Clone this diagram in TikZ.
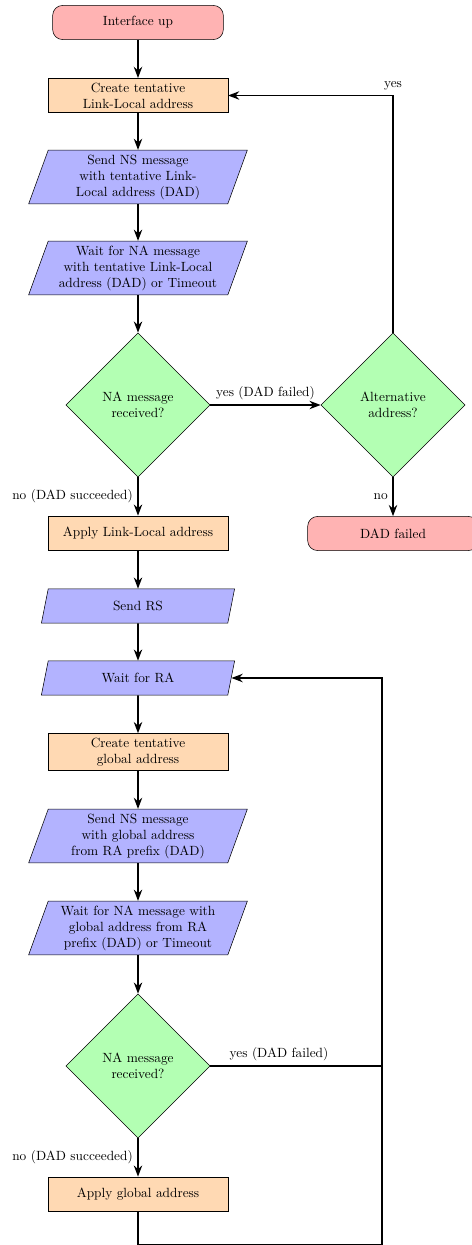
\documentclass[tikz,border=0pt]{standalone}
\usepackage{xcolor}
\definecolor{flow-red}{HTML}{FFB3B3}
\definecolor{flow-orange}{HTML}{FFD9B3}
\definecolor{flow-blue}{HTML}{B3B3FF}
\definecolor{flow-green}{HTML}{B3FFB3}
\usepackage{tikz}
\usetikzlibrary{shapes.geometric, arrows.meta}

\tikzset{
    startstop/.style={rectangle, rounded corners=7.5pt, draw, fill=flow-red,
        minimum width=4.5cm, minimum height=0.9cm, align=center},
    process/.style={rectangle, draw, fill=flow-orange, text width=4.5cm,
        minimum height=0.9cm, align=center},
    io/.style={trapezium, trapezium left angle=70, trapezium right angle=110,
        trapezium stretches=true, draw, fill=flow-blue, text width=4.5cm,
        minimum height=0.9cm, align=center},
    decision/.style={diamond, draw, fill=flow-green, minimum size=3.8cm,
        inner sep=0pt, align=center},
    arrow/.style={very thick, -{Stealth}},
    link/.style={very thick},
}

\begin{document}
\begin{tikzpicture}[x=0.75pt, y=-0.75pt]

    % Frame
    \useasboundingbox (0, 0) rectangle (471, 1245);

    % Link-Local address
    \node[startstop] (up) at (138, 22.5) {Interface up};
    \node[process] (createLL) at (138, 95.5) {Create tentative\\Link-Local address};
    \node[io] (sendNS) at (138, 177) {Send NS message\\with tentative Link-\\Local address (DAD)};
    \node[io] (waitNA) at (138, 268) {Wait for NA message\\with tentative Link-Local\\address (DAD) or Timeout};
    \node[decision] (checkNA) at (138, 405) {NA message\\received?};
    \node[decision] (checkAlt) at (393, 405) {Alternative\\address?};
    \node[process] (applyLL) at (138, 533) {Apply Link-Local address};
    \node[startstop] (failed) at (393, 533.5) {DAD failed};

    % Global address
    \node[io] (sendRS) at (138, 606) {Send RS};
    \node[io] (waitRA) at (138, 678) {Wait for RA};
    \node[process] (createGlobal) at (138, 752) {Create tentative\\global address};
    \node[io] (sendNSGlobal) at (138, 836) {Send NS message\\with global address\\from RA prefix (DAD)};
    \node[io] (waitNAGlobal) at (138, 928) {Wait for NA message with\\global address from RA\\prefix (DAD) or Timeout};
    \node[decision] (checkNAGlobal) at (138, 1066) {NA message\\received?};
    \node[process] (applyGlobal) at (138, 1194) {Apply global address};

    % Loop corners
    \coordinate (loopBottom) at (382, 1244.5);

    % Connectors
    \draw[arrow] (up) -- (createLL);
    \draw[arrow] (createLL) -- (sendNS);
    \draw[arrow] (sendNS) -- (waitNA);
    \draw[arrow] (waitNA) -- (checkNA);
    \draw[arrow] (checkNA) -- node[above] {yes (DAD failed)} (checkAlt);
    \draw[arrow] (checkNA) -- node[left] {no (DAD succeeded)} (applyLL);
    \draw[arrow] (checkAlt) |- node[above] {yes} (createLL);
    \draw[arrow] (checkAlt) -- node[left] {no} (failed);
    \draw[arrow] (applyLL) -- (sendRS);
    \draw[arrow] (sendRS) -- (waitRA);
    \draw[arrow] (waitRA) -- (createGlobal);
    \draw[arrow] (createGlobal) -- (sendNSGlobal);
    \draw[arrow] (sendNSGlobal) -- (waitNAGlobal);
    \draw[arrow] (waitNAGlobal) -- (checkNAGlobal);
    \draw[arrow] (checkNAGlobal) -- node[left] {no (DAD succeeded)} (applyGlobal);
    \draw[link] (checkNAGlobal) -- node[above, pos=0.4] {yes (DAD failed)} (checkNAGlobal -| loopBottom);
    \draw[arrow] (applyGlobal) |- (loopBottom) |- (waitRA);

\end{tikzpicture}
\end{document}
